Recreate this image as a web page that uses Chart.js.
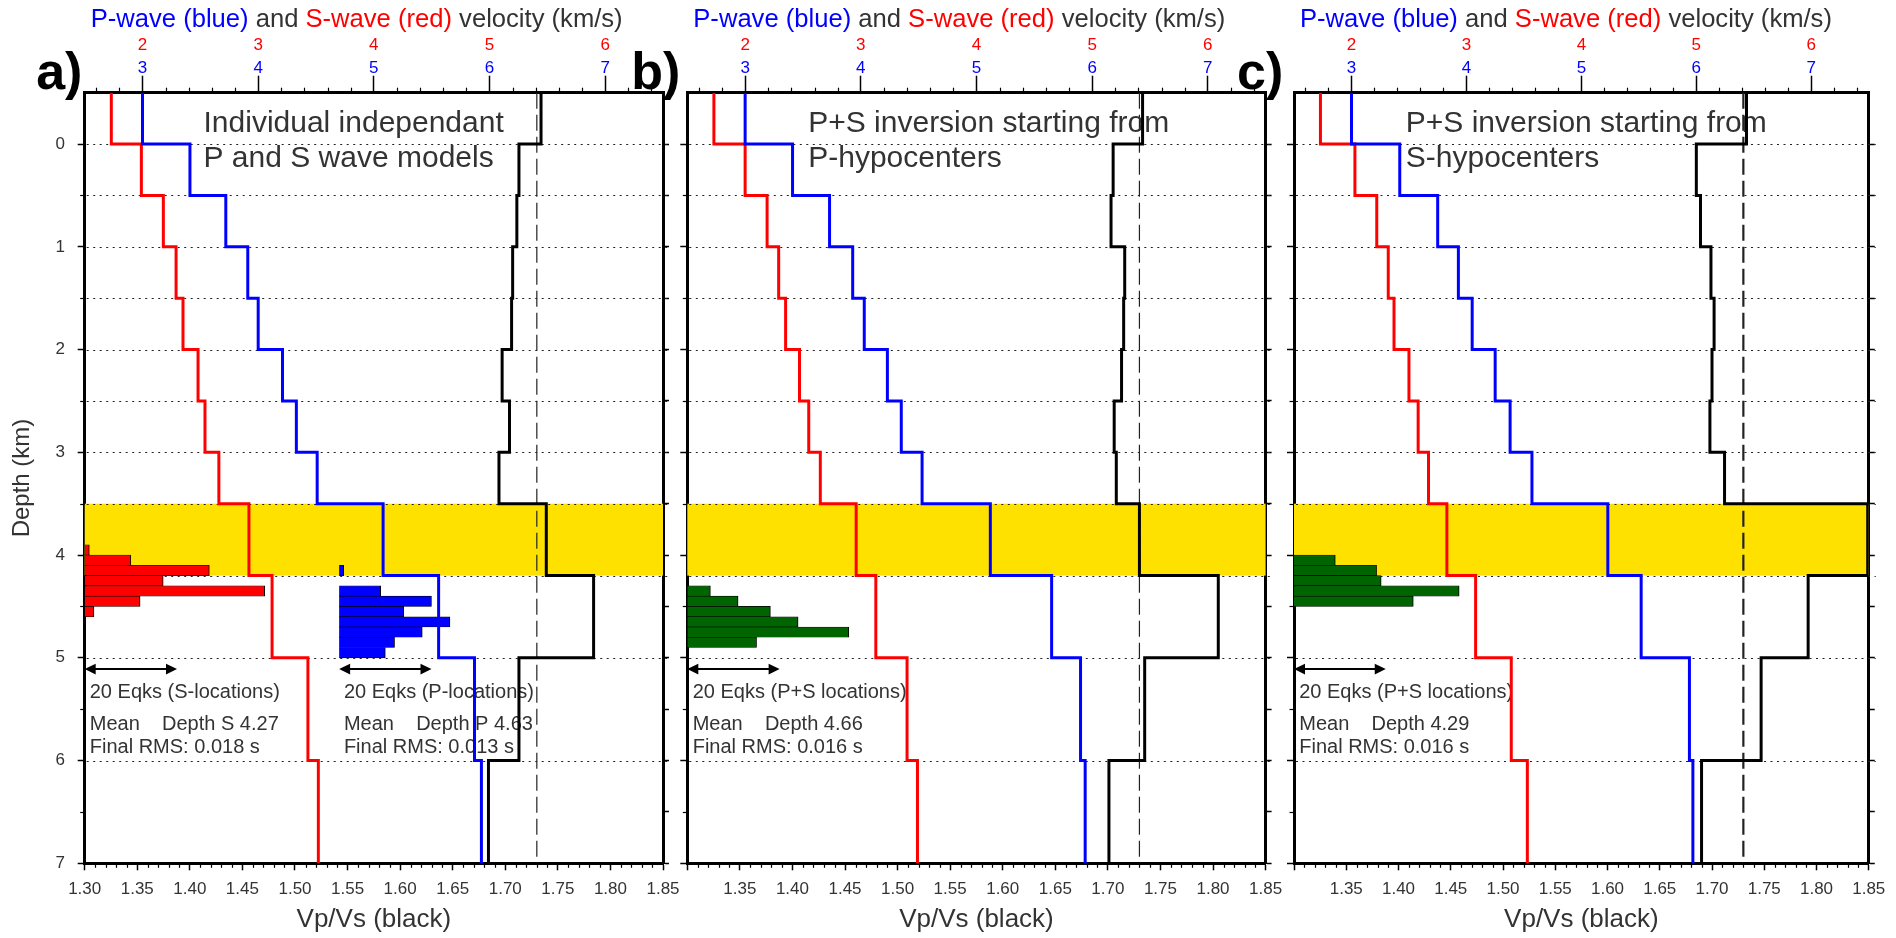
<!DOCTYPE html>
<html>
<head>
<meta charset="utf-8">
<script src="https://cdn.jsdelivr.net/npm/chart.js@4.4.0/dist/chart.umd.min.js"></script>
<style>
  html, body { margin: 0; padding: 0; background: #ffffff; width: 1896px; height: 938px; overflow: hidden; }
  canvas { position: absolute; left: 0; top: 0; }
</style>
</head>
<body>
<canvas id="panelA" width="1896" height="938"></canvas>
<canvas id="panelB" width="1896" height="938"></canvas>
<canvas id="panelC" width="1896" height="938"></canvas>
<script>
// ---- Model layering (depth in km, negative = above datum) ----
const depthBounds = [-0.5, 0, 0.5, 1, 1.5, 2, 2.5, 3, 3.5, 4.2, 5, 6, 7];
const anomalyLayer = [3.5, 4.2];
const referenceVpVs = 1.73;

// ---- a) individual independent P and S models ----
const vpA    = [3.00, 3.41, 3.72, 3.91, 4.00, 4.21, 4.33, 4.51, 5.08, 5.56, 5.87, 5.93];
const vsA    = [1.73, 1.99, 2.18, 2.29, 2.35, 2.48, 2.54, 2.66, 2.92, 3.12, 3.43, 3.52];
const vpvsA  = [1.734, 1.713, 1.711, 1.707, 1.706, 1.697, 1.704, 1.694, 1.739, 1.784, 1.713, 1.684];

// ---- b) P+S inversion starting from P-hypocenters ----
const vpB    = [3.00, 3.41, 3.73, 3.93, 4.03, 4.23, 4.35, 4.53, 5.12, 5.65, 5.90, 5.94];
const vsB    = [1.73, 2.00, 2.19, 2.29, 2.35, 2.47, 2.55, 2.65, 2.96, 3.13, 3.40, 3.49];
const vpvsB  = [1.733, 1.705, 1.703, 1.716, 1.715, 1.713, 1.706, 1.708, 1.730, 1.805, 1.735, 1.701];

// ---- c) P+S inversion starting from S-hypocenters ----
const vpC    = [3.00, 3.42, 3.75, 3.93, 4.05, 4.25, 4.38, 4.57, 5.23, 5.52, 5.94, 5.97];
const vsC    = [1.73, 2.03, 2.22, 2.32, 2.37, 2.50, 2.58, 2.67, 2.83, 3.08, 3.39, 3.53];
const vpvsC  = [1.733, 1.685, 1.689, 1.699, 1.702, 1.700, 1.698, 1.712, 1.849, 1.792, 1.747, 1.690];

// ---- Hypocentre depth histograms (bin centre in km, number of earthquakes) ----
const binsA_S   = [3.95, 4.05, 4.15, 4.25, 4.35, 4.45, 4.55];
const countsA_S = [1, 10, 27, 17, 39, 12, 2];
const binsA_P   = [4.15, 4.35, 4.45, 4.55, 4.65, 4.75, 4.85, 4.95];
const countsA_P = [1, 9, 20, 14, 24, 18, 12, 10];
const binsB     = [4.35, 4.45, 4.55, 4.65, 4.75, 4.85];
const countsB   = [5, 11, 18, 24, 35, 15];
const binsC     = [4.05, 4.15, 4.25, 4.35, 4.45];
const countsC   = [9, 18, 19, 36, 26];
const scaleBarEqks = 20;

// ---- Tick labels ----
const vpvsTicks  = [1.30, 1.35, 1.40, 1.45, 1.50, 1.55, 1.60, 1.65, 1.70, 1.75, 1.80, 1.85];
const depthTicks = [0, 1, 2, 3, 4, 5, 6, 7];
const pTicks     = [3, 4, 5, 6, 7];
const sTicks     = [2, 3, 4, 5, 6];

// ---- Page geometry ----
const PAGE_W = 1896, PAGE_H = 938;
const PLOT_TOP = 92.7, PLOT_BOTTOM = 863.3, PLOT_W = 578.3;
const LEFT_AXIS_W = 76.7, RIGHT_AXIS_W = 10;
const P_AXIS_H = 36, S_AXIS_H = 24;
const EQK_WIDTH = 0.00439;           // Vp/Vs units per earthquake in the histograms
const FONT = "'Liberation Sans', Arial, Helvetica, sans-serif";
const TEXT = '#333333';

Chart.defaults.font.family = FONT;
Chart.defaults.color = TEXT;

function stepProfile(values) {
  const pts = [];
  values.forEach((v, i) => {
    pts.push({ x: v, y: depthBounds[i] });
    pts.push({ x: v, y: depthBounds[i + 1] });
  });
  return pts;
}

function profileDataset(values, color, axisId) {
  return {
    type: 'line', data: stepProfile(values), xAxisID: axisId, yAxisID: 'y',
    borderColor: color, borderWidth: 3, pointRadius: 0, fill: false, tension: 0, order: 0
  };
}

function histDataset(h) {
  return {
    type: 'bar', indexAxis: 'y', xAxisID: h.axis, yAxisID: 'y',
    data: h.bins.map((d, i) => ({ y: d, x: [0, h.counts[i]] })),
    backgroundColor: h.color, borderColor: '#000000',
    borderWidth: { top: 0.6, bottom: 0.6, right: 1, left: 0 }, borderSkipped: false,
    grouped: false, barPercentage: 1, categoryPercentage: 1, order: 5
  };
}

function fixedTicks(list) {
  return s => { s.ticks = list.map(v => ({ value: v })); };
}

function drawArrow(ctx, x1, x2, y) {
  const hl = 11, hw = 5.3;
  ctx.strokeStyle = '#000'; ctx.fillStyle = '#000'; ctx.lineWidth = 2;
  ctx.beginPath(); ctx.moveTo(x1 + hl - 1, y); ctx.lineTo(x2 - hl + 1, y); ctx.stroke();
  ctx.beginPath(); ctx.moveTo(x1, y); ctx.lineTo(x1 + hl, y - hw); ctx.lineTo(x1 + hl, y + hw); ctx.closePath(); ctx.fill();
  ctx.beginPath(); ctx.moveTo(x2, y); ctx.lineTo(x2 - hl, y - hw); ctx.lineTo(x2 - hl, y + hw); ctx.closePath(); ctx.fill();
}

function decorPlugin(p) {
  return {
    id: 'decor',
    beforeDatasetsDraw(chart) {
      const { ctx, chartArea: ca, scales } = chart;
      const ys = scales.y, xs = scales.x;
      ctx.save();
      // highlighted layer
      const yb1 = ys.getPixelForValue(anomalyLayer[0]), yb2 = ys.getPixelForValue(anomalyLayer[1]);
      ctx.fillStyle = '#ffe100';
      ctx.fillRect(ca.left, yb1, ca.right - ca.left, yb2 - yb1);
      // dotted layer interfaces
      ctx.strokeStyle = '#222'; ctx.lineWidth = 1.2; ctx.setLineDash([2, 4.5]);
      depthBounds.slice(1, -1).forEach(d => {
        const py = Math.round(ys.getPixelForValue(d)) + 0.5;
        ctx.beginPath(); ctx.moveTo(ca.left + 2, py); ctx.lineTo(ca.right + 7, py); ctx.stroke();
      });
      // reference Vp/Vs
      ctx.setLineDash(p.refDash); ctx.lineWidth = p.refWidth; ctx.strokeStyle = '#222';
      const rx = xs.getPixelForValue(referenceVpVs);
      ctx.beginPath(); ctx.moveTo(rx, ca.top); ctx.lineTo(rx, ca.bottom); ctx.stroke();
      ctx.setLineDash([]);
      // panel annotation
      ctx.fillStyle = TEXT; ctx.textAlign = 'left'; ctx.textBaseline = 'alphabetic';
      ctx.font = '30px ' + FONT;
      p.topText.lines.forEach((t, i) => {
        ctx.fillText(t, xs.getPixelForValue(p.topText.x), ys.getPixelForValue(p.topText.depths[i]));
      });
      // histogram notes and scale bars
      ctx.font = '20px ' + FONT;
      p.notes.forEach(n => {
        n.lines.forEach((t, i) => {
          ctx.fillStyle = TEXT;
          ctx.fillText(t, xs.getPixelForValue(n.x), ys.getPixelForValue(n.depths[i]));
        });
        const hs = scales[n.axis];
        drawArrow(ctx, hs.getPixelForValue(0), hs.getPixelForValue(scaleBarEqks), ys.getPixelForValue(n.arrowDepth));
      });
      ctx.restore();
    },
    afterDraw(chart) {
      const { ctx, chartArea: ca, scales } = chart;
      ctx.save();
      ctx.strokeStyle = '#000'; ctx.lineWidth = 1.2;
      const seg = (x1, y1, x2, y2) => { ctx.beginPath(); ctx.moveTo(x1, y1); ctx.lineTo(x2, y2); ctx.stroke(); };
      // minor ticks, Vp/Vs every 0.01
      for (let i = 1; i < 55; i++) {
        if (i % 5 === 0) continue;
        const px = Math.round(scales.x.getPixelForValue(1.30 + i * 0.01)) + 0.5;
        seg(px, ca.bottom, px, ca.bottom + 4.5);
      }
      // minor ticks, velocity every 0.2 km/s
      for (let i = 0; i <= 24; i++) {
        const v = 2.6 + i * 0.2;
        if (Math.abs(v - Math.round(v)) < 1e-6) continue;
        const px = Math.round(scales.xP.getPixelForValue(v)) + 0.5;
        seg(px, ca.top, px, ca.top - 5);
      }
      // minor ticks, depth every 0.5 km
      for (let d = 0.5; d < 7; d += 1) {
        const py = Math.round(scales.y.getPixelForValue(d)) + 0.5;
        seg(ca.left, py, ca.left - 4.5, py);
      }
      // title
      ctx.font = '25.6px ' + FONT; ctx.textBaseline = 'alphabetic'; ctx.textAlign = 'left';
      let tx = ca.left + 6;
      [['P-wave (blue)', '#0000ff'], [' and ', TEXT], ['S-wave (red)', '#ff0000'], [' velocity (km/s)', TEXT]].forEach(([t, c]) => {
        ctx.fillStyle = c; ctx.fillText(t, tx, 26.7); tx += ctx.measureText(t).width;
      });
      // panel letter
      ctx.font = 'bold 52px ' + FONT; ctx.fillStyle = '#000';
      ctx.fillText(p.letter, ca.left + p.letterDx, 89);
      ctx.restore();
    }
  };
}

function buildPanel(p) {
  const right = p.left + PLOT_W;
  const datasets = [
    profileDataset(p.vpvs, '#000000', 'x'),
    profileDataset(p.vp, '#0000ff', 'xP'),
    profileDataset(p.vs, '#ff0000', 'xS')
  ].concat(p.hists.map(histDataset));

  const scales = {
    x: {
      type: 'linear', axis: 'x', position: 'bottom', min: 1.30, max: 1.85, offset: false, z: 1,
      afterBuildTicks: fixedTicks(vpvsTicks),
      afterFit: s => { s.height = PAGE_H - PLOT_BOTTOM; },
      ticks: {
        callback: v => (p.hideFirstVpVs && Math.abs(v - vpvsTicks[0]) < 1e-9) ? '' : v.toFixed(2),
        font: { size: 17, lineHeight: 1 }, color: TEXT, padding: 10.7, maxRotation: 0, autoSkip: false
      },
      grid: { drawOnChartArea: false, tickLength: 7, tickWidth: 1.5, tickColor: '#000' },
      border: { display: true, width: 3, color: '#000' },
      title: { display: true, text: 'Vp/Vs (black)', font: { size: 26, lineHeight: 1.2 }, color: TEXT, padding: { top: 0, bottom: 2.5 } }
    },
    xP: {
      type: 'linear', axis: 'x', position: 'top', min: 2.5, max: 7.5, offset: false, z: 1, weight: 0,
      afterBuildTicks: fixedTicks(pTicks),
      afterFit: s => { s.height = P_AXIS_H; },
      ticks: { color: '#0000ff', font: { size: 17, lineHeight: 1 }, padding: -1.5, maxRotation: 0, autoSkip: false },
      grid: { drawOnChartArea: false, tickLength: 17, tickWidth: 1.5, tickColor: '#000' },
      border: { display: true, width: 3, color: '#000' }
    },
    xS: {
      type: 'linear', axis: 'x', position: 'top', min: 1.5, max: 6.5, offset: false, z: 1, weight: 1,
      afterBuildTicks: fixedTicks(sTicks),
      afterFit: s => { s.height = S_AXIS_H; },
      ticks: { color: '#ff0000', font: { size: 17, lineHeight: 1 }, padding: 3, maxRotation: 0, autoSkip: false },
      grid: { display: false, drawTicks: false, drawOnChartArea: false },
      border: { display: false }
    },
    y: {
      type: 'linear', axis: 'y', position: 'left', reverse: true, min: -0.5, max: 7, offset: false, z: 1,
      afterBuildTicks: fixedTicks(depthTicks),
      afterFit: s => { s.width = LEFT_AXIS_W; },
      ticks: { display: p.depthLabels, font: { size: 17 }, color: TEXT, padding: 12.7 },
      grid: { drawOnChartArea: false, offset: false, tickLength: 7, tickWidth: 1.5, tickColor: '#000' },
      border: { display: true, width: 3, color: '#000' },
      title: { display: p.depthLabels, text: 'Depth (km)', font: { size: 24, lineHeight: 1.2 }, color: TEXT, padding: { top: 0, bottom: 0 } }
    },
    y2: {
      type: 'linear', axis: 'y', position: 'right', reverse: true, min: -0.5, max: 7, offset: false, z: 1,
      afterBuildTicks: s => { const t = []; for (let d = 0; d <= 7; d += 0.5) t.push({ value: d }); s.ticks = t; },
      afterFit: s => { s.width = RIGHT_AXIS_W; },
      ticks: { display: false },
      grid: { drawOnChartArea: false, offset: false, tickLength: 6, tickWidth: 1.5, tickColor: '#000' },
      border: { display: true, width: 3, color: '#000' }
    }
  };
  // histogram axes: counts measured from each histogram's base line
  Object.entries(p.histBases).forEach(([id, base]) => {
    scales[id] = {
      type: 'linear', axis: 'x', display: false,
      min: (1.30 - base) / EQK_WIDTH, max: (1.85 - base) / EQK_WIDTH
    };
  });

  return new Chart(document.getElementById(p.canvas), {
    type: 'line',
    data: { datasets },
    options: {
      responsive: false, animation: false, devicePixelRatio: 1, events: [],
      layout: { padding: { left: p.left - LEFT_AXIS_W, right: PAGE_W - right - RIGHT_AXIS_W, top: PLOT_TOP - P_AXIS_H - S_AXIS_H, bottom: 0 } },
      plugins: { legend: { display: false }, tooltip: { enabled: false }, title: { display: false } },
      scales
    },
    plugins: [decorPlugin(p)]
  });
}

const noteDepths = [5.394, 5.706, 5.930];
const arrowDepth = 5.11;
const topDepths = [-0.119, 0.223];

buildPanel({
  canvas: 'panelA', letter: 'a)', letterDx: -48.5, left: 84.7,
  vp: vpA, vs: vsA, vpvs: vpvsA, depthLabels: true, hideFirstVpVs: false,
  refDash: [16, 6], refWidth: 1.2,
  histBases: { xHistS: 1.30, xHistP: 1.542 },
  hists: [
    { bins: binsA_S, counts: countsA_S, color: '#ff0000', axis: 'xHistS' },
    { bins: binsA_P, counts: countsA_P, color: '#0000ff', axis: 'xHistP' }
  ],
  topText: { x: 1.413, depths: topDepths, lines: ['Individual independant', 'P and S wave models'] },
  notes: [
    { axis: 'xHistS', x: 1.3048, depths: noteDepths, arrowDepth, lines: ['20 Eqks (S-locations)', 'Mean    Depth S 4.27', 'Final RMS: 0.018 s'] },
    { axis: 'xHistP', x: 1.5465, depths: noteDepths, arrowDepth, lines: ['20 Eqks (P-locations)', 'Mean    Depth P 4.63', 'Final RMS: 0.013 s'] }
  ]
});

buildPanel({
  canvas: 'panelB', letter: 'b)', letterDx: -56, left: 687.3,
  vp: vpB, vs: vsB, vpvs: vpvsB, depthLabels: false, hideFirstVpVs: true,
  refDash: [16, 6], refWidth: 1.2,
  histBases: { xHistS: 1.30 },
  hists: [{ bins: binsB, counts: countsB, color: '#006400', axis: 'xHistS' }],
  topText: { x: 1.415, depths: topDepths, lines: ['P+S inversion starting from', 'P-hypocenters'] },
  notes: [
    { axis: 'xHistS', x: 1.3051, depths: noteDepths, arrowDepth, lines: ['20 Eqks (P+S locations)', 'Mean    Depth 4.66', 'Final RMS: 0.016 s'] }
  ]
});

buildPanel({
  canvas: 'panelC', letter: 'c)', letterDx: -57, left: 1294,
  vp: vpC, vs: vsC, vpvs: vpvsC, depthLabels: false, hideFirstVpVs: true,
  refDash: [16, 6], refWidth: 2.2,
  histBases: { xHistS: 1.30 },
  hists: [{ bins: binsC, counts: countsC, color: '#006400', axis: 'xHistS' }],
  topText: { x: 1.407, depths: topDepths, lines: ['P+S inversion starting from', 'S-hypocenters'] },
  notes: [
    { axis: 'xHistS', x: 1.3050, depths: noteDepths, arrowDepth, lines: ['20 Eqks (P+S locations)', 'Mean    Depth 4.29', 'Final RMS: 0.016 s'] }
  ]
});
</script>
</body>
</html>
